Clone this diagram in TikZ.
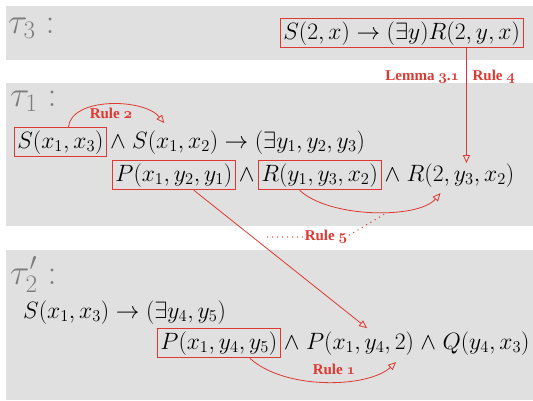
\RequirePackage{fix-cm}
\documentclass[tikz,border=0pt]{standalone}
\usepackage{amsmath}
\usepackage{fontspec}
\newfontfamily\labelfamily{Liberation Serif}
\usetikzlibrary{arrows.meta}

\definecolor{rulered}{RGB}{222,56,50}
\definecolor{bandgray}{RGB}{223,224,223}
\definecolor{taugray}{RGB}{125,125,125}
\newcommand{\formsize}{\fontsize{23.6}{28}\selectfont}
\newcommand{\tausize}{\fontsize{36}{42}\selectfont}
\newcommand{\rulesize}{\fontsize{15}{17}\labelfamily\bfseries}
\newcommand{\osn}[1]{{\usefont{OML}{cmm}{b}{it}#1}}

\tikzset{
  term/.style={inner sep=3pt, font=\formsize, anchor=base west},
  marked/.style={term, draw=rulered, line width=0.8pt},
  taulabel/.style={inner sep=0pt, font=\tausize, text=taugray, anchor=base west},
  rulelabel/.style={inner sep=2pt, font=\rulesize, text=rulered},
  derive/.style={draw=rulered, line width=0.8pt, -{Triangle[open,length=8pt,width=7pt]}},
  hint/.style={draw=rulered, line width=1.4pt, line cap=round, dash pattern=on 0pt off 5pt},
}

\begin{document}
\begin{tikzpicture}[x=1pt,y=-1pt]
\useasboundingbox (0,0) rectangle (533,400);
% grey bands
\path[fill=bandgray] (6,6) rectangle (533,60);
\path[fill=bandgray] (6,83) rectangle (533,226);
\path[fill=bandgray] (6,250) rectangle (533,400);
% tau_3
\node[taulabel] (tau3) at (8,33) {$\tau_3:$};
\node[marked] (s2x) at (280,39) {$S(2,x)\to(\exists y)R(2,y,x)$};
% tau_1
\node[taulabel] (tau1) at (10,106) {$\tau_1:$};
\node[marked] (s13) at (14,148) {$S(x_1,x_3)$};
\node[term] (and1) at (s13.base east) {$\wedge$};
\node[term] (s12) at (and1.base east) {$S(x_1,x_2)$};
\node[term] (ex1) at (s12.base east) {$\to(\exists y_1,y_2,y_3)$};
\node[marked] (p21) at (112,181) {$P(x_1,y_2,y_1)$};
\node[term] (and2) at (p21.base east) {$\wedge$};
\node[marked] (r13) at (and2.base east) {$R(y_1,y_3,x_2)$};
\node[term] (and3) at (r13.base east) {$\wedge$};
\node[term] (r2) at (and3.base east) {$R(2,y_3,x_2)$};
% tau_2'
\node[taulabel] (tau2) at (10,284) {$\tau_2':$};
\node[term] (s13b) at (20,318) {$S(x_1,x_3)\to(\exists y_4,y_5)$};
\node[marked] (p45) at (157,349) {$P(x_1,y_4,y_5)$};
\node[term] (and4) at (p45.base east) {$\wedge$};
\node[term] (p42) at (and4.base east) {$P(x_1,y_4,2)$};
\node[term] (and5) at (p42.base east) {$\wedge$};
\node[term] (q43) at (and5.base east) {$Q(y_4,x_3)$};
% rule 4
\coordinate (r4tip) at ([xshift=6pt,yshift=-3pt]r2.north);
\coordinate (r4lab) at (r4tip |- 0,77);
\draw[derive] (s2x.south -| r4tip) -- (r4tip);
\node[rulelabel, anchor=east] (lemma) at ([xshift=-5pt]r4lab) {Lemma \osn{3}.\osn{1}};
\node[rulelabel, anchor=west] (rule4) at ([xshift=4pt]r4lab) {Rule \osn{4}};
% rule 2
\draw[derive] ([xshift=8pt]s13.north) .. controls +(3,-30) and +(-20,-25) .. ([xshift=-11pt,yshift=4pt]s12.north);
\node[rulelabel] (rule2) at (111,113) {Rule \osn{2}};
% P to P
\draw[derive] ([xshift=20pt]p21.south) -- ([xshift=7pt]p42.north);
% rule 5
\draw[derive] ([xshift=-20pt]r13.south) .. controls +(30,28) and +(-22,26) .. ([xshift=-20pt,yshift=-3pt]r2.south);
\node[rulelabel] (rule5) at (326,237) {Rule \osn{5}};
\coordinate (hintl) at (264,237);
\coordinate (hintr) at (388,212);
\draw[hint] (rule5.west) -- (hintl);
\draw[hint] ([yshift=2pt]rule5.east) -- (hintr);
% rule 1
\draw[derive] ([xshift=31pt]p45.south) .. controls +(35,32) and +(-28,26) .. ([xshift=36pt,yshift=-4pt]p42.south);
\node[rulelabel] (rule1) at (334,369) {Rule \osn{1}};
\end{tikzpicture}
\end{document}
